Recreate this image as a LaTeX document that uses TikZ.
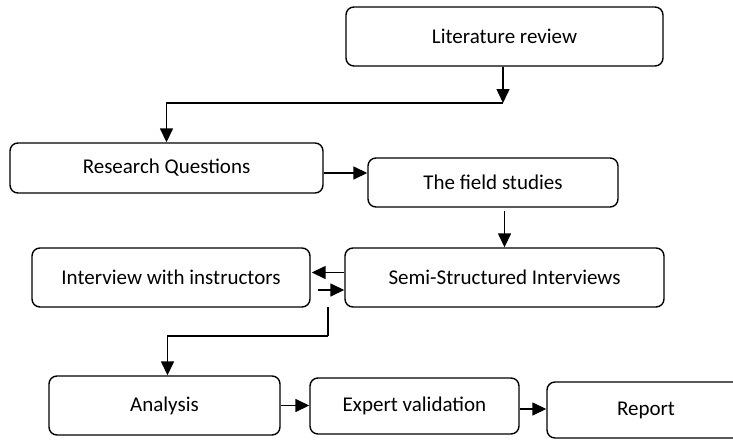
\documentclass[tikz,border=0pt]{standalone}
\usepackage{fontspec}
\setmainfont{Carlito}
\usetikzlibrary{arrows.meta}
\begin{document}
\begin{tikzpicture}[x=1pt,y=-1pt,
  box/.style={draw, line width=1.4pt, rounded corners=8pt, fill=white, inner sep=0pt,
              font=\fontsize{21}{25}\selectfont},
  arr/.style={line width=1.5pt, -{Triangle[length=14pt,width=13pt]}},
  ln/.style={line width=1.5pt}]
\useasboundingbox (0,0) rectangle (733,439);
\fill[white] (0,0) rectangle (733,439);

\node[box, minimum width=317pt, minimum height=59pt] (lit)   at (504.5,36.5) {Literature review};
\node[box, minimum width=313pt, minimum height=50pt] (rq)    at (166.5,168)  {Research Questions};
\node[box, minimum width=250pt, minimum height=49pt] (field) at (493,182.5)  {The field studies};
\node[box, minimum width=319pt, minimum height=59pt] (semi)  at (504.5,277.5) {Semi-Structured Interviews};
\node[box, minimum width=278pt, minimum height=59pt] (inter) at (171,277.5)  {Interview with instructors};
\node[box, minimum width=231pt, minimum height=59pt] (ana)   at (164.5,405.5) {Analysis};
\node[box, minimum width=209pt, minimum height=56pt] (exp)   at (414.5,406)  {Expert validation};
\node[box, minimum width=198pt, minimum height=56pt] (rep)   at (646,410)    {Report};

\coordinate (c1) at (503,103);
\draw[arr] (c1 |- lit.south) -- (c1);
\draw[arr] (c1) -| (rq.north);

\draw[arr] ([yshift=-5pt]rq.east) -- ([yshift=-5pt]rq.east -| field.west);

\draw[arr] ([yshift=-3pt]semi.north |- field.south) -- (semi.north);

\draw[arr, shorten >=1pt] ([yshift=5pt]semi.west) -- ([yshift=5pt]inter.east);

\coordinate (s5) at (318,290);
\draw[arr] (s5) -- (s5 -| semi.west);

\coordinate (s6) at (328,307);
\coordinate (t6) at (328,336);
\draw[ln] (s6) -- (t6);
\draw[arr] (t6) -| ([xshift=3pt]ana.north);

\draw[arr] (ana.east) -- (ana.east -| exp.west);
\draw[arr] ([yshift=-3pt]exp.east) -- ([yshift=-3pt]exp.east -| rep.west);
\end{tikzpicture}
\end{document}
